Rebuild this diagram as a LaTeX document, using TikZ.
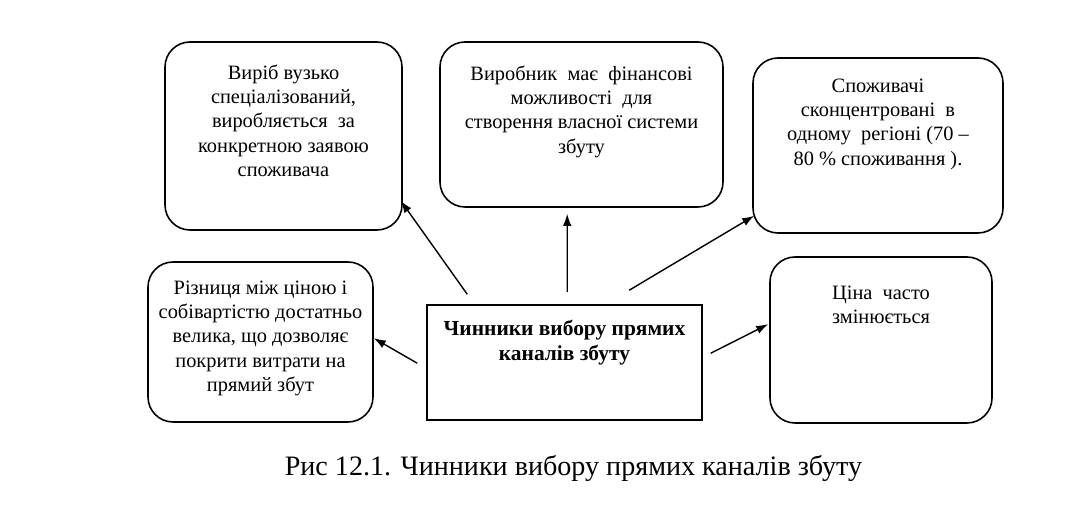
\documentclass[tikz,border=0pt]{standalone}
\usepackage{fontspec}
\setmainfont{Liberation Serif}
\usepackage{tikz}
\usetikzlibrary{arrows}
\usetikzlibrary{arrows.meta}
\usetikzlibrary{positioning}

\begin{document}
\begin{tikzpicture}[
    factor/.style={draw, black, line width=0.9pt, rounded corners=0.5cm, inner sep=0},
    txt/.style={align=center, inner sep=0, anchor=north, font=\fontsize{11.6}{13.9}\selectfont},
    link/.style={-{Latex[length=2.4mm, width=1.7mm]}, line width=0.8pt}
  ]
    \useasboundingbox (0, 0) rectangle (21.5, 10.52);

    % factor boxes
    \node [factor, minimum width=4.74cm, minimum height=3.76cm] (b1) at (5.67, 7.80) {};
    \node [factor, minimum width=5.66cm, minimum height=3.30cm] (b2) at (11.63, 8.03) {};
    \node [factor, minimum width=5.00cm, minimum height=3.50cm] (b3) at (17.56, 7.61) {};
    \node [factor, minimum width=4.50cm, minimum height=3.20cm] (b4) at (5.21, 3.68) {};
    \node [factor, minimum width=4.44cm, minimum height=3.32cm] (b5) at (17.62, 3.72) {};
    \node [draw, black, line width=0.9pt, minimum width=5.50cm, minimum height=2.30cm] (c) at (11.29, 3.27) {};

    \node [txt] at ([yshift=-0.46cm]b1.north) {Виріб вузько\\спеціалізований,\\виробляється\ \ за\\конкретною заявою\\споживача};
    \node [txt] at ([yshift=-0.48cm]b2.north) {Виробник\ \ має\ \ фінансові\\можливості\ \ для\\створення власної системи\\збуту};
    \node [txt] at ([yshift=-0.42cm]b3.north) {Споживачі\\сконцентровані\ \ в\\одному\ \ регіоні (70 –\\80 \% споживання ).};
    \node [txt] at ([yshift=-0.38cm]b4.north) {Різниця між ціною і\\собівартістю достатньо\\велика, що дозволяє\\покрити витрати на\\прямий збут};
    \node [txt] at ([yshift=-0.58cm]b5.north) {Ціна\ \ часто\\змінюється};
    \node [txt, font=\bfseries\fontsize{12.2}{13.9}\selectfont] at ([yshift=-0.32cm]c.north) {Чинники вибору прямих\\каналів збуту};

    % arrows
    \draw [link] ([xshift=0.82cm, yshift=0.20cm]c.north west) -- ([xshift=-0.04cm, yshift=0.60cm]b1.south east);
    \draw [link] ([xshift=2.82cm, yshift=0.24cm]c.north west) -- ([xshift=2.56cm, yshift=-0.12cm]b2.south west);
    \draw [link] ([xshift=4.06cm, yshift=0.28cm]c.north west) -- ([xshift=0.04cm, yshift=0.36cm]b3.south west);
    \draw [link] ([xshift=-0.18cm, yshift=-1.18cm]c.north west) -- ([yshift=-1.54cm]b4.north east);
    \draw [link] ([xshift=0.16cm, yshift=-0.98cm]c.north east) -- ([xshift=-0.02cm, yshift=-1.36cm]b5.north west);

    \node [font=\fontsize{16}{19}\selectfont] (cap) at (11.47, 1.16) {Рис 12.1. Чинники вибору прямих каналів збуту};
  \end{tikzpicture}
\end{document}
